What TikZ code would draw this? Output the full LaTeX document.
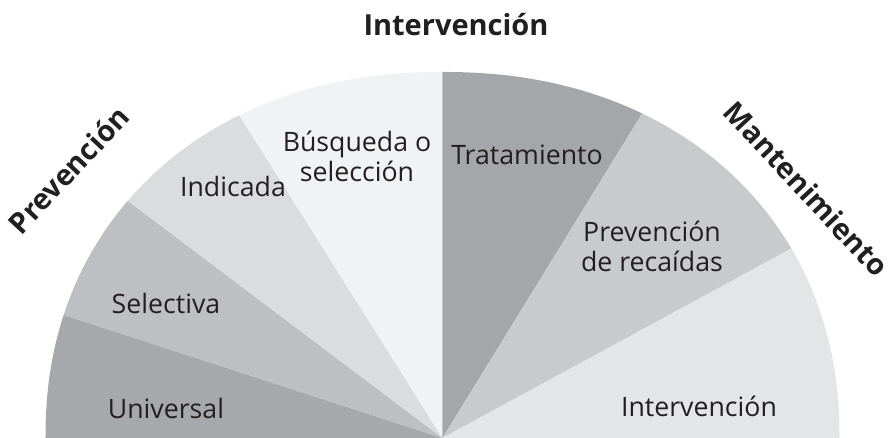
\documentclass[tikz,border=0pt]{standalone}
\usepackage{fontspec}
\setmainfont{Open Sans}
\usepackage{tikz}
\definecolor{FanUniv}{RGB}{167,168,171}
\definecolor{FanSel}{RGB}{190,191,194}
\definecolor{FanInd}{RGB}{219,220,222}
\definecolor{FanBus}{RGB}{241,242,243}
\definecolor{FanTrat}{RGB}{165,166,169}
\definecolor{FanRec}{RGB}{201,202,204}
\definecolor{FanInt}{RGB}{228,229,231}
\definecolor{FanText}{RGB}{35,31,32}

% outer edge of the fan (a slightly squared ellipse)
\newcommand{\fanedge}{(397,0) -- plot[domain=0.5:179.5, samples=120]
  ({397*sign(cos(\x))*abs(cos(\x))^0.93}, {366*abs(sin(\x))^0.93})
  -- (-397,0) -- cycle}

\begin{document}
\begin{tikzpicture}[x=0.02cm, y=0.02cm,
          lbl/.style={font=\fontsize{15.2}{17}\selectfont, text=FanText, align=center},
          head/.style={font=\fontsize{16.5}{19}\selectfont\bfseries, text=FanText}
        ]
        \useasboundingbox (-442.5,0) rectangle (451.5,438);
        \coordinate (apex) at (0,0);

        % Wedges
        \foreach \a/\b/\c in {180/162/FanUniv, 162/143/FanSel, 143/122.2/FanInd,
                              122.2/90/FanBus, 90/58.4/FanTrat, 58.4/28.5/FanRec,
                              28.5/0/FanInt} {
          \begin{scope}
            \clip (apex) -- (\a:600) -- (\b:600) -- cycle;
            \fill[\c] \fanedge;
          \end{scope}
        }

        % Wedge labels
        \node[lbl] (univ) at (-276.5, 30)  {Universal};
        \node[lbl] (sel)  at (-276.5, 135) {Selectiva};
        \node[lbl] (ind)  at (-209.5, 252) {Indicada};
        \node[lbl] (bus)  at (-85.5, 282)  {Búsqueda o\\selección};
        \node[lbl] (trat) at (84.5, 283)   {Tratamiento};
        \node[lbl] (rec)  at (209.5, 192)  {Prevención\\de recaídas};
        \node[lbl] (intv) at (256.5, 32)   {Intervención};

        % Headings
        \node[head] (hint)  at (13.5, 413)  {Intervención};
        \node[head, rotate=47]  (hprev) at (-374, 268) {Prevención};
        \node[head, rotate=-47] (hmant) at (364, 249)  {Mantenimiento};
      \end{tikzpicture}
\end{document}
